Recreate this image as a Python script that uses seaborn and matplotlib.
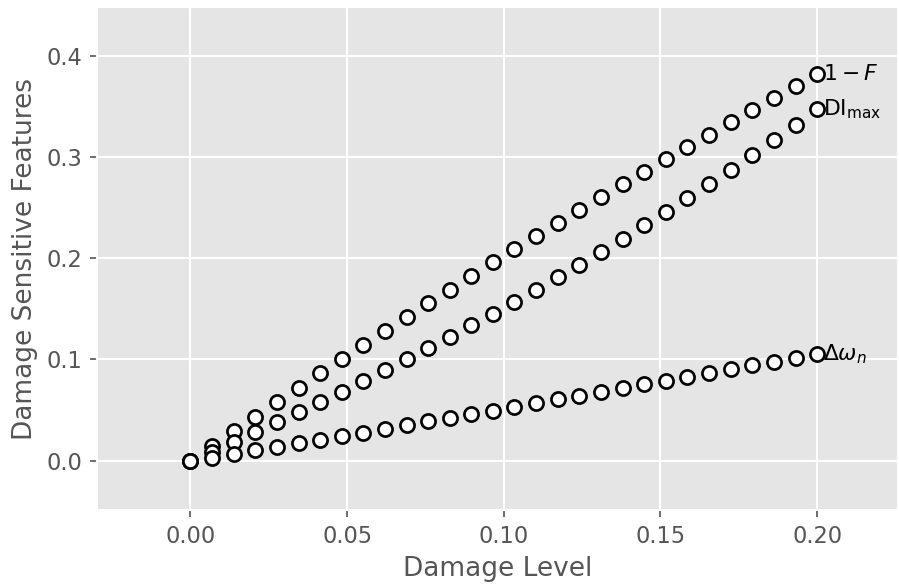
import matplotlib
matplotlib.use("Agg")
import matplotlib.pyplot as plt
import seaborn as sns
import pandas as pd

damage_level = [0.0000, 0.0069, 0.0138, 0.0207, 0.0276, 0.0345, 0.0414, 0.0483,
                0.0552, 0.0621, 0.0690, 0.0759, 0.0828, 0.0897, 0.0966, 0.1034,
                0.1103, 0.1172, 0.1241, 0.1310, 0.1379, 0.1448, 0.1517, 0.1586,
                0.1655, 0.1724, 0.1793, 0.1862, 0.1931, 0.2000]

one_minus_f = [0.0, 0.0148, 0.0296, 0.0435, 0.0580, 0.0721, 0.0862, 0.1000,
               0.1146, 0.1282, 0.1422, 0.1554, 0.1689, 0.1820, 0.1959, 0.2087,
               0.2216, 0.2344, 0.2472, 0.2607, 0.2730, 0.2854, 0.2980, 0.3101,
               0.3220, 0.3345, 0.3464, 0.3579, 0.3700, 0.3819]

di_max = [0.0, 0.0082, 0.0181, 0.0280, 0.0379, 0.0477, 0.0580, 0.0680,
          0.0783, 0.0892, 0.1001, 0.1109, 0.1221, 0.1336, 0.1452, 0.1567,
          0.1689, 0.1810, 0.1933, 0.2064, 0.2192, 0.2324, 0.2456, 0.2594,
          0.2733, 0.2874, 0.3019, 0.3170, 0.3319, 0.3473]

delta_omega = [0.0, 0.0030, 0.0066, 0.0102, 0.0135, 0.0171, 0.0207, 0.0240,
               0.0277, 0.0316, 0.0353, 0.0388, 0.0422, 0.0457, 0.0494, 0.0530,
               0.0570, 0.0605, 0.0642, 0.0676, 0.0714, 0.0754, 0.0790, 0.0827,
               0.0866, 0.0902, 0.0941, 0.0978, 0.1014, 0.1054]

series_labels = [r"$1-F$", r"$\mathrm{DI}_{\mathrm{max}}$", r"$\Delta\omega_n$"]
series_values = [one_minus_f, di_max, delta_omega]

x_ticks = [0.00, 0.05, 0.10, 0.15, 0.20]
y_ticks = [0.0, 0.1, 0.2, 0.3, 0.4]

plt.style.use("ggplot")

frames = []
for lab, vals in zip(series_labels, series_values):
    frames.append(pd.DataFrame({"Damage Level": damage_level,
                                "value": vals, "feature": lab}))
df = pd.concat(frames, ignore_index=True)

fig = plt.figure(figsize=(899 / 150, 587 / 150), dpi=150)
ax = fig.add_axes([97 / 899, 1 - 510 / 587, (898 - 97) / 899, (510 - 7) / 587])

sns.scatterplot(data=df, x="Damage Level", y="value", ax=ax,
                facecolor="white", edgecolor="black", linewidth=1.3,
                s=46, zorder=3, legend=False)

for lab, vals in zip(series_labels, series_values):
    ax.annotate(lab, xy=(damage_level[-1], vals[-1]), xytext=(3, 0),
                textcoords="offset points", ha="left", va="center",
                fontsize=10.5, color="black")

ax.set_xlim(-0.0298, 0.2258)
ax.set_ylim(-0.0487, 0.448)
ax.set_xticks(x_ticks)
ax.set_yticks(y_ticks)
ax.set_xlabel("Damage Level", fontsize=12.7, color="#555555")
ax.set_ylabel("Damage Sensitive Features", fontsize=12.7, color="#555555")
ax.tick_params(labelsize=10.8, colors="#555555")
ax.grid(True, color="white", linewidth=1.0)

fig.savefig("out.png", dpi=150)
